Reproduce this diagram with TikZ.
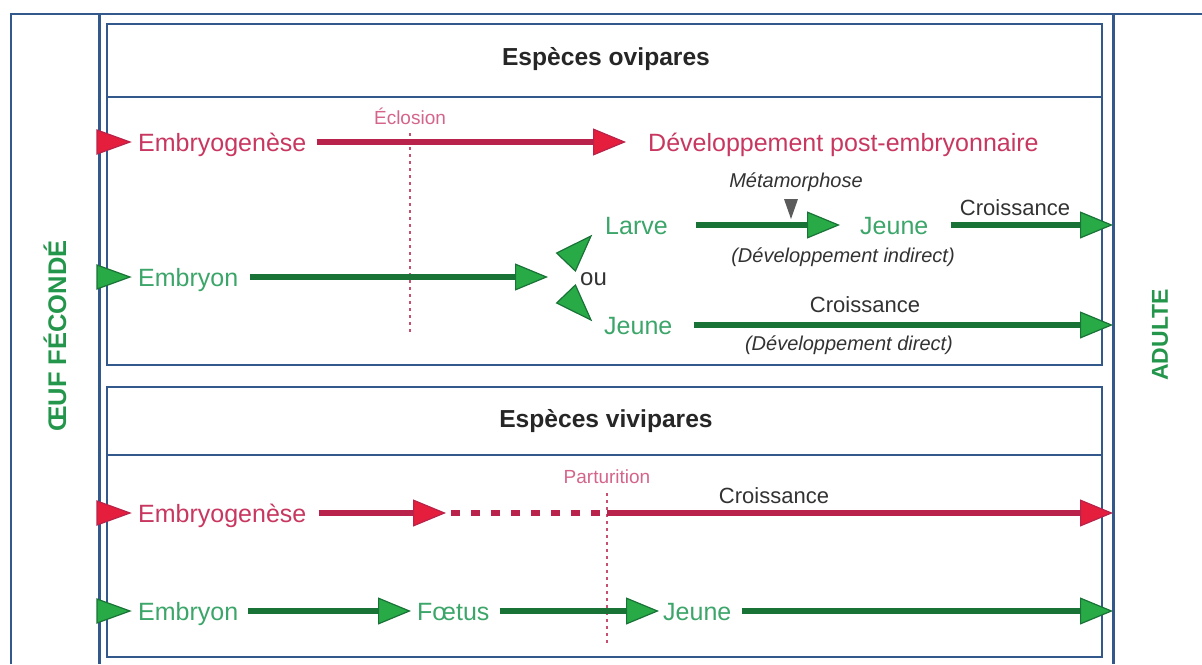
\documentclass[tikz,border=0pt]{standalone}
\usepackage{fontspec}
\setmainfont{Liberation Sans}
\usetikzlibrary{arrows.meta}

\definecolor{frameblue}{RGB}{50,88,140}
\definecolor{gtext}{RGB}{60,165,105}
\definecolor{gbold}{RGB}{35,150,75}
\definecolor{gline}{RGB}{25,115,55}
\definecolor{gfill}{RGB}{40,170,70}
\definecolor{rtext}{RGB}{200,55,95}
\definecolor{rline}{RGB}{185,35,75}
\definecolor{rfill}{RGB}{228,30,60}
\definecolor{ptext}{RGB}{212,100,140}
\definecolor{dgray}{RGB}{50,50,50}

\begin{document}
\begin{tikzpicture}[x=1pt,y=-1pt,
	frame/.style={draw=frameblue, line width=2pt},
	lbl/.style={inner sep=0pt, anchor=west, text height=18pt, text depth=0pt,
		font=\fontsize{25}{29}\selectfont},
	glbl/.style={lbl, text=gtext},
	rlbl/.style={lbl, text=rtext},
	txt/.style={inner sep=0pt, text height=16pt, text depth=0pt, text=dgray,
		font=\fontsize{22}{26}\selectfont},
	hdr/.style={txt, font=\fontsize{24.6}{28}\selectfont\bfseries, text=black!85},
	note/.style={inner sep=0pt, text=dgray, font=\fontsize{20}{24}\selectfont\itshape},
	plbl/.style={inner sep=0pt, text height=14pt, text depth=0pt, text=ptext,
		font=\fontsize{19}{23}\selectfont},
	vlbl/.style={inner sep=0pt, rotate=90, text=gbold,
		font=\fontsize{25.5}{29}\selectfont\bfseries},
	garr/.style={draw=gline, line width=6.5pt,
		-{Triangle[length=33pt,width=27pt,fill=gfill,line width=1.2pt]}},
	rarr/.style={draw=rline, line width=6.5pt,
		-{Triangle[length=33pt,width=27pt,fill=rfill,line width=1.2pt]}},
	rdash/.style={draw=rline, line width=6.5pt, dash pattern=on 9pt off 11pt},
	partline/.style={draw=rline!80, line width=2pt, dash pattern=on 3pt off 4pt}
]
\useasboundingbox (0,0) rectangle (1202,664);

\draw[frame] (11,664) -- (11,14) -- (1202,14);
\draw[frame, line width=3pt] (99,14) -- (99,664);
\draw[frame, line width=3pt] (1113,14) -- (1113,664);
\draw[frame] (107,24) rectangle (1102,365);
\draw[frame] (107,97) -- (1102,97);
\draw[frame] (107,387) rectangle (1102,657);
\draw[frame] (107,455) -- (1102,455);

\node[vlbl] (oeuf) at (55,336) {ŒUF FÉCONDÉ};
\node[vlbl, font=\fontsize{23}{27}\selectfont\bfseries] (adulte) at (1160,335) {ADULTE};

\node[hdr] (ovi) at (606,57) {Espèces ovipares};
\node[rlbl] (emb1) at (138,142) {Embryogenèse};
\node[rlbl] (post) at (648,142) {Développement post-embryonnaire};
\node[plbl] (eclo) at (410,117) {Éclosion};
\coordinate (eclob) at (410,335);
\draw[partline] (eclo.south) ++(0,9) -- (eclob);
\draw[rarr] ([xshift=10pt]emb1.east) -- ([xshift=-22pt]post.west);

\node[glbl] (embr1) at (138,277) {Embryon};
\node[txt, anchor=west, font=\fontsize{24}{28}\selectfont] (ou) at (580,277) {ou};
\draw[garr] ([xshift=12pt]embr1.east) -- ([xshift=-32pt]ou.west);
\filldraw[fill=gfill, draw=gline, line width=1.2pt]
	(556.6,253) -- (591,236) -- (575.4,271) -- cycle;
\filldraw[fill=gfill, draw=gline, line width=1.2pt]
	(575.4,285) -- (591,320) -- (556.6,303) -- cycle;

\node[glbl] (larve) at (605,225) {Larve};
\node[glbl] (jeune1) at (860,225) {Jeune};
\node[note] (meta) at (796,182) {Métamorphose};
\draw[garr] ([xshift=28pt]larve.east) -- ([xshift=-20pt]jeune1.west);
\fill[dgray!80] (784,199) -- (798,199) -- (791,219) -- cycle;
\node[note] (indir) at (843,257) {(Développement indirect)};
\coordinate (ad1) at (1113,225);
\node[txt] (cr1) at (1015,207) {Croissance};
\draw[garr] ([xshift=22pt]jeune1.east) -- (ad1);

\node[glbl] (jeune2) at (604,325) {Jeune};
\coordinate (ad2) at (1113,325);
\node[txt] (cr2) at (865,304) {Croissance};
\node[note] (dir) at (849,345) {(Développement direct)};
\draw[garr] ([xshift=21pt]jeune2.east) -- (ad2);

\node[hdr] (vivi) at (606,419) {Espèces vivipares};
\node[rlbl] (emb2) at (138,513) {Embryogenèse};
\node[plbl] (part) at (607,476) {Parturition};
\coordinate (partb) at (607,643);
\coordinate (vt) at (446,513);
\coordinate (pt) at (607,513);
\coordinate (ad3) at (1113,513);
\node[txt] (cr3) at (774,495) {Croissance};
\draw[partline] (part.south) ++(0,10) -- (partb);
\draw[rarr] ([xshift=12pt]emb2.east) -- (vt);
\draw[rdash] ([xshift=5pt]vt) -- (pt);
\draw[rarr] (pt) -- (ad3);

\node[glbl] (embr2) at (138,611) {Embryon};
\node[glbl] (foetus) at (417,611) {Fœtus};
\node[glbl] (jeune3) at (663,611) {Jeune};
\coordinate (ad4) at (1113,611);
\draw[garr] ([xshift=10pt]embr2.east) -- ([xshift=-6pt]foetus.west);
\draw[garr] ([xshift=10pt]foetus.east) -- ([xshift=-4pt]jeune3.west);
\draw[garr] ([xshift=10pt]jeune3.east) -- (ad4);

\foreach \yy/\cc/\dd in {142/rfill/rline, 277/gfill/gline, 513/rfill/rline, 611/gfill/gline}
	\filldraw[fill=\cc, draw=\dd, line width=1.2pt] (97,\yy-12) -- (130,\yy) -- (97,\yy+12) -- cycle;
\end{tikzpicture}
\end{document}
